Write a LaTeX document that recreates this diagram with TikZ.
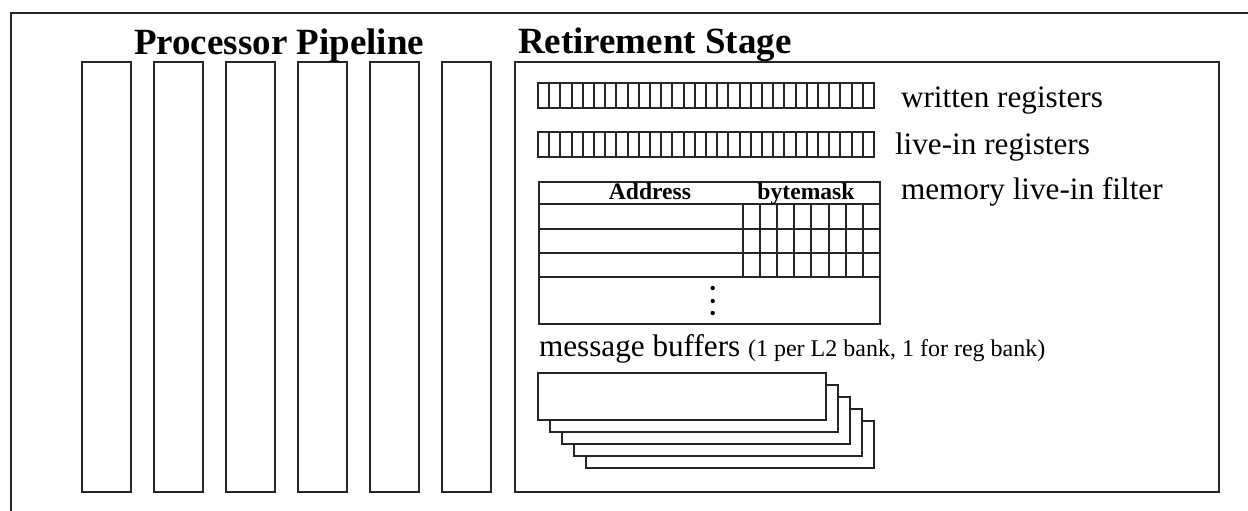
\documentclass[tikz,border=0pt]{standalone}
\usepackage{fontspec}
\setmainfont{Liberation Serif}
\usepackage{tikz}

\tikzset{
  title/.style={anchor=base west,inner sep=0pt,font=\fontsize{18.5}{22}\selectfont\bfseries},
  label/.style={anchor=base west,inner sep=0pt,font=\fontsize{15.6}{19}\selectfont},
  colhead/.style={anchor=base,inner sep=0pt,font=\fontsize{11.8}{14}\selectfont\bfseries}
}

\begin{document}
\begin{tikzpicture}[x=0.5pt,y=-0.5pt,line width=1pt,line cap=rect,draw=black!85]
\useasboundingbox (0,0) rectangle (1248,510);
% outer frame (top and left edges only)
  \draw (1248,13) -- (11,13) -- (11,510);
% pipeline stages
  \foreach \i in {0,...,5}
    \draw ({82+\i*72},62) rectangle ++(49,430);
  \node[title] (pipe) at (133,54) {Processor Pipeline};
% retirement stage
  \draw (515,62) rectangle (1219,492);
  \node[title] (retire) at (517,53) {Retirement Stage};
% register bit vectors
  \foreach \y in {83,132} {
    \draw (538,\y) rectangle ++(336,25);
    \foreach \i in {1,...,29} { \draw ({538+\i*11.2},\y) -- ++(0,25); }
  }
  \node[label] (wreg) at (900,107) {written registers};
  \node[label] (lreg) at (894,154) {live-in registers};
% memory live-in filter
  \draw (539,182) rectangle (880,324);
  \foreach \y in {204,228.5,252.5,276.5} { \draw (539,\y) -- (880,\y); }
  \foreach \i in {0,...,7} { \draw ({742.7+\i*17.16},204) -- ++(0,72.5); }
  \foreach \y in {288,301,313} { \fill (712.7,\y) circle (1.1pt); }
  \node[colhead] (addr) at (650,199) {Address};
  \node[colhead] (mask) at (806,199) {bytemask};
  \node[label] (filt) at (900,199) {memory live-in filter};
% message buffers, back to front
  \foreach \k in {4,3,2,1,0}
    \draw[fill=white] ({538+\k*12},{373+\k*12}) rectangle ++(288,47);
  \node[label] (msg) at (538,356) {message buffers {\fontsize{12}{14}\selectfont (1 per L2 bank, 1 for reg bank)}};
\end{tikzpicture}
\end{document}
